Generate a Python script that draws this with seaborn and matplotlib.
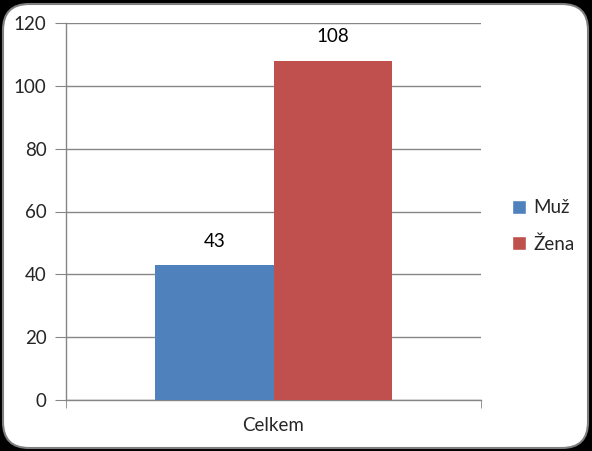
import matplotlib
matplotlib.use("Agg")
import matplotlib.pyplot as plt
from matplotlib.patches import FancyBboxPatch, Patch
import pandas as pd
import seaborn as sns

# data
categories = ["Celkem", "Celkem"]
groups = ["Muž", "Žena"]
counts = [43, 108]
colors = ["#4F81BD", "#C0504D"]
yticks = [0, 20, 40, 60, 80, 100, 120]

df = pd.DataFrame({"cat": categories, "pohlavi": groups, "n": counts})

sns.set_style("white")
plt.rcParams["font.family"] = ["Lato", "DejaVu Sans"]
fs = 13.5

fig = plt.figure(figsize=(5.92, 4.51), dpi=100)
fig.patch.set_facecolor("black")

# rounded white chart area, kept behind the axes
frame = FancyBboxPatch((3, 3), 585, 444, boxstyle="round,pad=0,rounding_size=26",
                       transform=None, facecolor="white", edgecolor="#7f7f7f",
                       linewidth=1.5, zorder=-5)
fig.patches.append(frame)

ax = fig.add_axes([66 / 592, 51 / 451, 415 / 592, 377 / 451])
ax.set_facecolor("none")
ax.set_zorder(2)
sns.barplot(data=df, x="cat", y="n", hue="pohlavi", palette=colors,
            width=0.57, saturation=1, linewidth=0, ax=ax, legend=False, zorder=3)

ax.set_xlim(-0.5, 0.5)
ax.set_ylim(0, 120)
ax.set_yticks(yticks)
ax.set_xlabel("")
ax.set_ylabel("")

for c in ax.containers:
    ax.bar_label(c, padding=11, fontsize=fs, color="black")

grid_col = "#868686"
ax.yaxis.grid(True, color=grid_col, linewidth=1, zorder=0)
ax.set_axisbelow(True)
for s in ["top", "right"]:
    ax.spines[s].set_visible(False)
for s in ["left", "bottom"]:
    ax.spines[s].set_color(grid_col)
    ax.spines[s].set_linewidth(1)

ax.tick_params(axis="y", which="major", length=8, color=grid_col,
               labelsize=fs, pad=6, left=True)
ax.tick_params(axis="x", which="major", length=0, labelsize=fs, pad=12)
ax.set_xticks([-0.5, 0.5], minor=True)
ax.tick_params(axis="x", which="minor", length=6, color=grid_col, bottom=True)

handles = [Patch(facecolor=colors[i], label=groups[i]) for i in range(len(groups))]
fig.legend(handles=handles, loc="center left", bbox_to_anchor=(495 / 592, 1 - 226 / 451),
           frameon=False, fontsize=fs, handlelength=0.75, handleheight=0.75,
           handletextpad=0.4, labelspacing=1.0)

fig.savefig("out.png", dpi=100, facecolor=fig.get_facecolor())
